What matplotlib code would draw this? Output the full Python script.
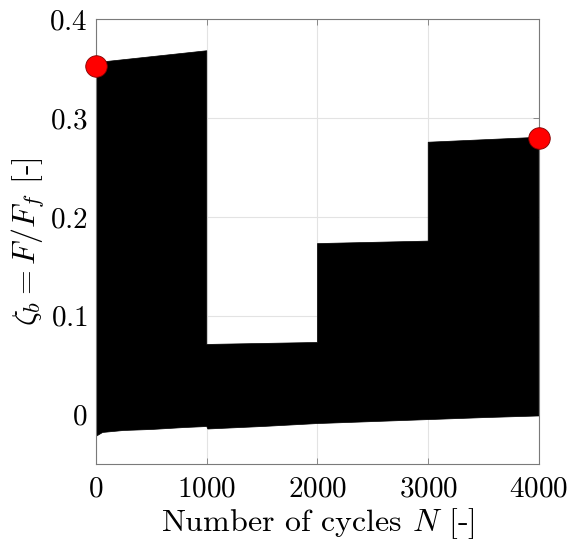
import numpy as np
import matplotlib
matplotlib.use('Agg')
import matplotlib.pyplot as plt

plt.rcParams['mathtext.fontset'] = 'cm'
plt.rcParams['font.family'] = ['cmr10', 'DejaVu Serif']
plt.rcParams['axes.formatter.use_mathtext'] = True

# upper envelope of the cycling signal (one step per load block)
n_upper = [0, 1000, 1000, 2000, 2000, 3000, 3000, 4000]
zeta_upper = [0.356, 0.368, 0.071, 0.073, 0.173, 0.1755, 0.2755, 0.2805]

# lower envelope
n_lower = [0, 60, 250, 500, 800, 1000, 1010, 1500, 2000, 2500, 3000, 3500, 4000]
zeta_lower = [-0.022, -0.018, -0.016, -0.015, -0.013, -0.012, -0.0145,
              -0.012, -0.009, -0.007, -0.005, -0.003, -0.0013]

# start / end markers
n_pts = [0, 4000]
zeta_pts = [0.353, 0.280]

xticks = [0, 1000, 2000, 3000, 4000]
yticks = [0, 0.1, 0.2, 0.3, 0.4]

fig = plt.figure(figsize=(5.82, 5.46), dpi=100)
ax = fig.add_axes([0.165, 0.150, 0.761, 0.815])

# black band = the fast oscillation between the two envelopes
xs = np.concatenate([n_upper, n_lower[::-1]])
ys = np.concatenate([zeta_upper, zeta_lower[::-1]])
ax.fill(xs, ys, color='black', lw=0.5, zorder=2)

ax.plot(n_pts, zeta_pts, 'o', color='red', markeredgecolor='#800000',
        markeredgewidth=0.6, markersize=15.5, zorder=3, clip_on=False)

ax.set_xlim(0, 4000)
ax.set_ylim(-0.05, 0.4)
ax.set_xticks(xticks)
ax.set_xticklabels([r'$%d$' % t for t in xticks])
ax.set_yticks(yticks)
ax.set_yticklabels([r'$%g$' % t for t in yticks])

ax.grid(True, color='#e3e3e3', lw=0.8, zorder=0)
ax.set_axisbelow(True)
for s in ax.spines.values():
    s.set_color('#7a7a7a')
    s.set_linewidth(0.8)
ax.tick_params(direction='in', length=4, width=0.6, color='#7a7a7a',
               top=True, right=True, labelsize=21)
ax.tick_params(axis='x', pad=9)
ax.tick_params(axis='y', pad=6)

ax.set_xlabel('Number of cycles $N$ [-]', fontsize=23, labelpad=2)
ax.set_ylabel(r'$\zeta_b = F/F_f$ [-]', fontsize=23, labelpad=2)

plt.savefig('out.png', dpi=100)
